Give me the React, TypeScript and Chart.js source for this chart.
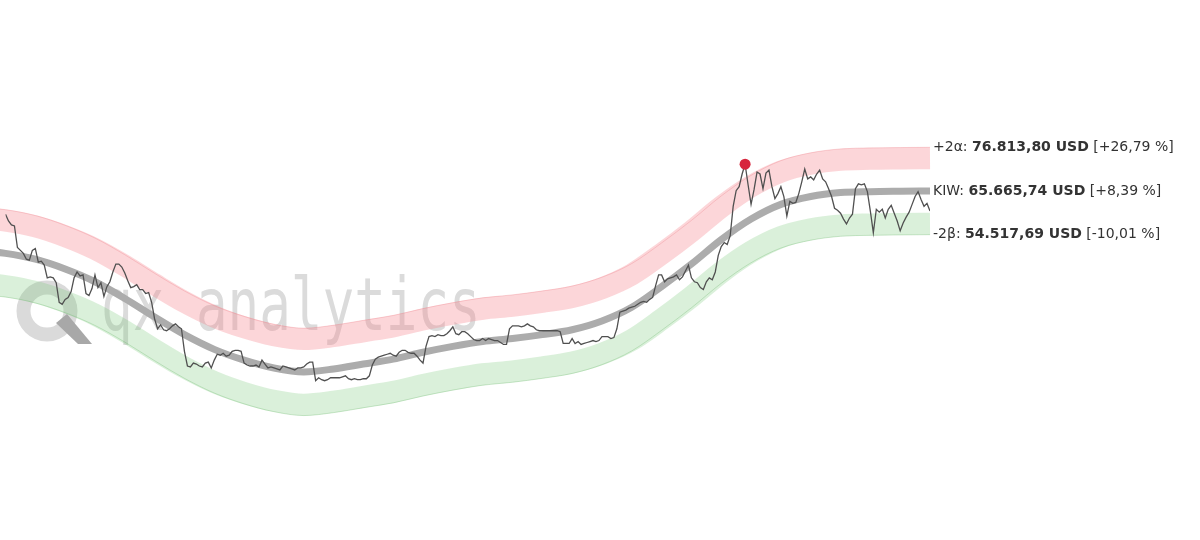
import React, { useEffect, useRef } from "react";
import { Chart, registerables } from "chart.js";

Chart.register(...registerables);

// Daily closing price (USD), one value per step of the day index 0..310
const PRICE: number[] = [
  59750, 58000, 57000, 56750, 51250, 50500, 49750, 48250, 48000, 50500,
  51000, 47500, 47750, 46750, 43500, 43750, 43500, 42250, 37250, 36750,
  38000, 38500, 40000, 43500, 45000, 44000, 44250, 39500, 39000, 40750,
  44250, 41000, 42250, 38750, 41250, 42500, 45000, 47000, 47000, 46250,
  44750, 42750, 41000, 41250, 41750, 40500, 40500, 39500, 39750, 37250,
  33000, 30500, 31500, 30250, 30000, 30500, 31250, 31750, 31000, 30500,
  24750, 21000, 20750, 21750, 21500, 21000, 20750, 21750, 22000, 20500,
  22500, 24000, 23750, 24250, 23500, 23750, 24750, 25000, 25000, 24750,
  21750, 21250, 21000, 21000, 21250, 20750, 22500, 21500, 20500, 20750,
  20500, 20250, 20000, 21000, 20750, 20500, 20250, 20000, 20500, 20500,
  20750, 21500, 22000, 22000, 17250, 18000, 17500, 17250, 17500, 18000,
  18000, 18000, 18000, 18250, 18500, 17750, 17500, 17750, 17500, 17500,
  17750, 17750, 18500, 21250, 22750, 23250, 23500, 23750, 24000, 24250,
  23750, 23500, 24500, 25000, 25000, 24500, 24250, 24250, 23500, 22500,
  21750, 26000, 28500, 28750, 28500, 29000, 28750, 28750, 29250, 30000,
  31000, 29250, 29000, 29750, 29750, 29250, 28500, 27750, 27500, 27500,
  28000, 27500, 28000, 27750, 27500, 27500, 27000, 26500, 26500, 30500,
  31250, 31250, 31250, 31000, 31250, 31750, 31250, 31000, 30250, 30000,
  30000, 30000, 30000, 30000, 30000, 30000, 29750, 26750, 26750, 26750,
  28000, 26750, 27250, 26500, 26750, 27000, 27250, 27500, 27250, 27500,
  28500, 28500, 28500, 28000, 28250, 30500, 34750, 35000, 35250, 35750,
  36000, 36250, 36750, 37250, 37500, 37250, 38000, 38500, 41500, 44250,
  44250, 42500, 43250, 43500, 43750, 44250, 43000, 43750, 45250, 46750,
  43500, 42500, 42250, 41000, 40500, 42500, 43500, 43000, 45000, 49250,
  51500, 52500, 52000, 54250, 61750, 65750, 66750, 70000, 72500, 67250,
  62250, 66000, 70500, 70000, 66250, 70250, 71000, 66750, 63750, 65000,
  66750, 64250, 59250, 63000, 62500, 62750, 65000, 68000, 71250, 68750,
  69250, 68500, 70000, 71000, 68750, 68000, 66250, 64250, 61250, 60750,
  60000, 58500, 57250, 58750, 59750, 66250, 67500, 67250, 67500, 65500,
  60500, 55000, 61000, 60250, 61000, 58750, 61000, 62000, 60000, 58000,
  55500, 57500, 59000, 60250, 62250, 64250, 65500, 63500, 61750, 62500,
  60583,
];

// Fair-value curve (KIW, USD) sampled every 10 days
const KIW_DAY: number[] = [
  -10, 0, 10, 20, 30, 40, 50, 60, 70, 80, 90, 100, 110, 120, 130, 140, 150,
  160, 170, 180, 190, 200, 210, 220, 230, 240, 250, 260, 270, 280, 290, 300, 310,
];
const KIW: number[] = [
  50500, 49750, 48250, 45750, 42500, 38250, 33500, 29000, 25250, 22500, 20500,
  19500, 20250, 21500, 22750, 24500, 26000, 27250, 28000, 29000, 30250, 32500,
  36000, 41250, 47000, 53250, 58500, 62250, 64250, 65250, 65500, 65600, 65665.74,
];

const SIGMA = 5574.03;

const LEVEL_NAMES: string[] = ["+2α", "KIW", "-2β"];
const LEVEL_VALUES: number[] = [76813.8, 65665.74, 54517.69];
const CURRENCY = "USD";
const WATERMARK = "qx analytics";

const Y_MIN = -22000;
const Y_MAX = 113000;

function fmt(n: number): string {
  const neg = n < 0;
  const s = Math.abs(n).toFixed(2);
  const [int, dec] = s.split(".");
  const withDots = int.replace(/\B(?=(\d{3})+(?!\d))/g, ".");
  return (neg ? "-" : "") + withDots + "," + dec;
}

const watermarkPlugin = {
  id: "qxWatermark",
  beforeDatasetsDraw(chart: any) {
    const ctx: CanvasRenderingContext2D = chart.ctx;
    ctx.save();
    // Q ring
    ctx.beginPath();
    ctx.arc(47, 311, 23.5, 0, Math.PI * 2);
    ctx.lineWidth = 14;
    ctx.strokeStyle = "#dadada";
    ctx.stroke();
    // Q tail
    ctx.beginPath();
    ctx.moveTo(56, 323);
    ctx.lineTo(67, 314);
    ctx.lineTo(92, 344);
    ctx.lineTo(78, 344);
    ctx.closePath();
    ctx.fillStyle = "#a8a8a8";
    ctx.fill();
    // text
    ctx.fillStyle = "#dbdbdb";
    ctx.font = '73px "DejaVu Sans Mono"';
    ctx.textBaseline = "alphabetic";
    ctx.translate(101, 330);
    ctx.scale(0.72, 1);
    ctx.fillText(WATERMARK, 0, 0);
    ctx.restore();
  },
};

const labelPlugin = {
  id: "levelLabels",
  afterDatasetsDraw(chart: any) {
    const ctx: CanvasRenderingContext2D = chart.ctx;
    const area = chart.chartArea;
    const y = chart.scales.y;
    const last = PRICE[PRICE.length - 1];
    ctx.save();
    ctx.textBaseline = "middle";
    LEVEL_NAMES.forEach((name, i) => {
      const v = LEVEL_VALUES[i];
      const py = y.getPixelForValue(v);
      let px = area.right + 3;
      const pct = (v / last - 1) * 100;
      const parts = [
        { t: name + ": ", b: false },
        { t: fmt(v) + " " + CURRENCY, b: true },
        { t: " [" + (pct >= 0 ? "+" : "") + fmt(pct) + " %]", b: false },
      ];
      parts.forEach((p) => {
        ctx.font = (p.b ? "bold " : "") + '14px "DejaVu Sans"';
        ctx.fillStyle = "#333333";
        ctx.fillText(p.t, px, py);
        px += ctx.measureText(p.t).width;
      });
    });
    ctx.restore();
  },
};

export default function App() {
  const ref = useRef<HTMLCanvasElement | null>(null);

  useEffect(() => {
    if (!ref.current) return;
    const curve = (k: number) =>
      KIW_DAY.map((d, i) => ({ x: d, y: KIW[i] + k * SIGMA }));
    const price = PRICE.map((v, i) => ({ x: i, y: v }));
    let maxI = 0;
    PRICE.forEach((v, i) => {
      if (v > PRICE[maxI]) maxI = i;
    });

    const common = {
      pointRadius: 0,
      fill: false,
      cubicInterpolationMode: "monotone" as const,
      borderCapStyle: "butt" as const,
      borderJoinStyle: "round" as const,
      clip: false as any,
    };

    const chart = new Chart(ref.current, {
      type: "line",
      data: {
        datasets: [
          {
            ...common,
            label: "upper band",
            data: curve(1.5),
            borderColor: "rgba(245,130,140,0.33)",
            borderWidth: 22,
            order: 6,
          },
          {
            ...common,
            label: "lower band",
            data: curve(-1.5),
            borderColor: "rgba(120,200,120,0.27)",
            borderWidth: 22,
            order: 6,
          },
          {
            ...common,
            label: "+2σ",
            data: curve(2),
            borderColor: "rgba(235,120,130,0.3)",
            borderWidth: 1,
            order: 5,
          },
          {
            ...common,
            label: "-2σ",
            data: curve(-2),
            borderColor: "rgba(100,180,100,0.3)",
            borderWidth: 1,
            order: 5,
          },
          {
            ...common,
            label: "KIW",
            data: curve(0),
            borderColor: "#acacac",
            borderWidth: 7,
            order: 3,
          },
          {
            label: "Price",
            data: price,
            borderColor: "#505050",
            borderWidth: 1.3,
            pointRadius: 0,
            tension: 0,
            fill: false,
            order: 2,
          },
          {
            label: "High",
            data: [{ x: maxI, y: PRICE[maxI] }],
            showLine: false,
            pointRadius: 5.5,
            pointBackgroundColor: "#d7263d",
            pointBorderColor: "#d7263d",
            pointBorderWidth: 0,
            order: 1,
          },
        ],
      },
      options: {
        animation: false,
        responsive: false,
        events: [],
        layout: { padding: { left: 0, right: 270, top: 0, bottom: 0 } },
        plugins: {
          legend: { display: false },
          tooltip: { enabled: false },
          title: { display: false },
        },
        scales: {
          x: { type: "linear", display: false, min: 0, max: 310 },
          y: { type: "linear", display: false, min: Y_MIN, max: Y_MAX },
        },
      },
      plugins: [watermarkPlugin, labelPlugin],
    });
    return () => chart.destroy();
  }, []);

  return (
    <div
      style={{
        position: "fixed",
        left: 0,
        top: 0,
        width: 1200,
        height: 540,
        background: "#ffffff",
      }}
    >
      <canvas
        ref={ref}
        width={1200}
        height={540}
        style={{ width: 1200, height: 540, display: "block" }}
      />
    </div>
  );
}
